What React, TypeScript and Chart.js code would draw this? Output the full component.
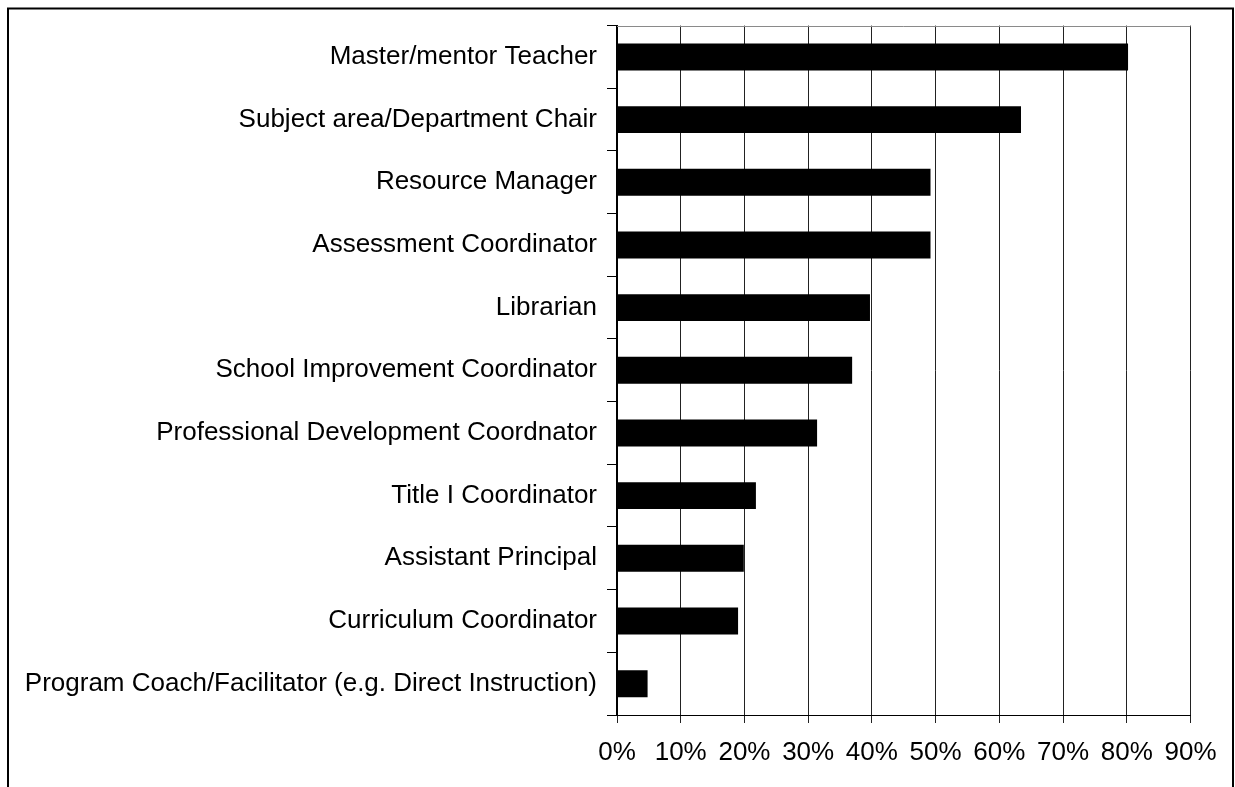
import React, { useEffect, useRef } from "react";
import { Chart, registerables } from "chart.js";

Chart.register(...registerables);

const categories: string[] = [
  "Master/mentor Teacher",
  "Subject area/Department Chair",
  "Resource Manager",
  "Assessment Coordinator",
  "Librarian",
  "School Improvement Coordinator",
  "Professional Development Coordnator",
  "Title I Coordinator",
  "Assistant Principal",
  "Curriculum Coordinator",
  "Program Coach/Facilitator (e.g. Direct Instruction)",
];

const values: number[] = [80.2, 63.4, 49.2, 49.2, 39.7, 36.9, 31.4, 21.8, 19.9, 19.0, 4.8];

const xTickStep = 10;
const xMax = 90;

const FONT = "'Liberation Sans', Arial, sans-serif";

const framePlugin = {
  id: "frame",
  beforeDraw(chart: any) {
    const { ctx, width, height } = chart;
    ctx.save();
    ctx.fillStyle = "#ffffff";
    ctx.fillRect(0, 0, width, height);
    ctx.restore();
  },
  afterDraw(chart: any) {
    const { ctx, chartArea } = chart;
    ctx.save();
    // plot area top border
    ctx.strokeStyle = "#8a8a8a";
    ctx.lineWidth = 1;
    ctx.beginPath();
    ctx.moveTo(chartArea.left, Math.round(chartArea.top) + 0.5);
    ctx.lineTo(chartArea.right, Math.round(chartArea.top) + 0.5);
    ctx.stroke();
    // outer frame
    ctx.strokeStyle = "#000000";
    ctx.lineWidth = 2;
    ctx.beginPath();
    ctx.moveTo(8, 820);
    ctx.lineTo(8, 8.5);
    ctx.lineTo(1233, 8.5);
    ctx.lineTo(1233, 820);
    ctx.stroke();
    ctx.restore();
  },
};

export default function App() {
  const ref = useRef<HTMLCanvasElement | null>(null);

  useEffect(() => {
    document.body.style.margin = "0";
    const canvas = ref.current;
    if (!canvas) return;
    const chart = new Chart(canvas, {
      type: "bar",
      data: {
        labels: categories,
        datasets: [
          {
            data: values,
            backgroundColor: "#000000",
            borderColor: "#000000",
            borderWidth: 0,
            barPercentage: 0.43,
            categoryPercentage: 1,
          },
        ],
      },
      options: {
        indexAxis: "y",
        responsive: false,
        animation: false,
        maintainAspectRatio: false,
        devicePixelRatio: 1,
        layout: { padding: { top: 24, right: 44.5, left: 0, bottom: 0 } },
        plugins: {
          legend: { display: false },
          tooltip: { enabled: false },
          title: { display: false },
        },
        scales: {
          x: {
            type: "linear",
            min: 0,
            max: xMax,
            ticks: {
              stepSize: xTickStep,
              callback: (v: any) => `${v}%`,
              color: "#000000",
              font: { family: FONT, size: 26 },
              padding: 14,
              maxRotation: 0,
            },
            grid: {
              color: "#222222",
              lineWidth: 1,
              tickLength: 8,
              drawTicks: true,
            },
            border: { color: "#000000", width: 1 },
            afterFit(scale: any) {
              scale.height = 72;
            },
          },
          y: {
            type: "category",
            ticks: {
              color: "#000000",
              font: { family: FONT, size: 26 },
              padding: 10,
              autoSkip: false,
            },
            grid: {
              drawOnChartArea: false,
              tickLength: 10,
              offset: true,
              color: "#000000",
            },
            border: { color: "#000000", width: 2 },
            afterFit(scale: any) {
              scale.width = 617;
            },
          },
        },
      },
      plugins: [framePlugin],
    });
    return () => chart.destroy();
  }, []);

  return (
    <div style={{ position: "absolute", left: 0, top: 0, width: 1235, height: 787 }}>
      <canvas ref={ref} width={1235} height={787} style={{ display: "block", width: 1235, height: 787 }} />
    </div>
  );
}
